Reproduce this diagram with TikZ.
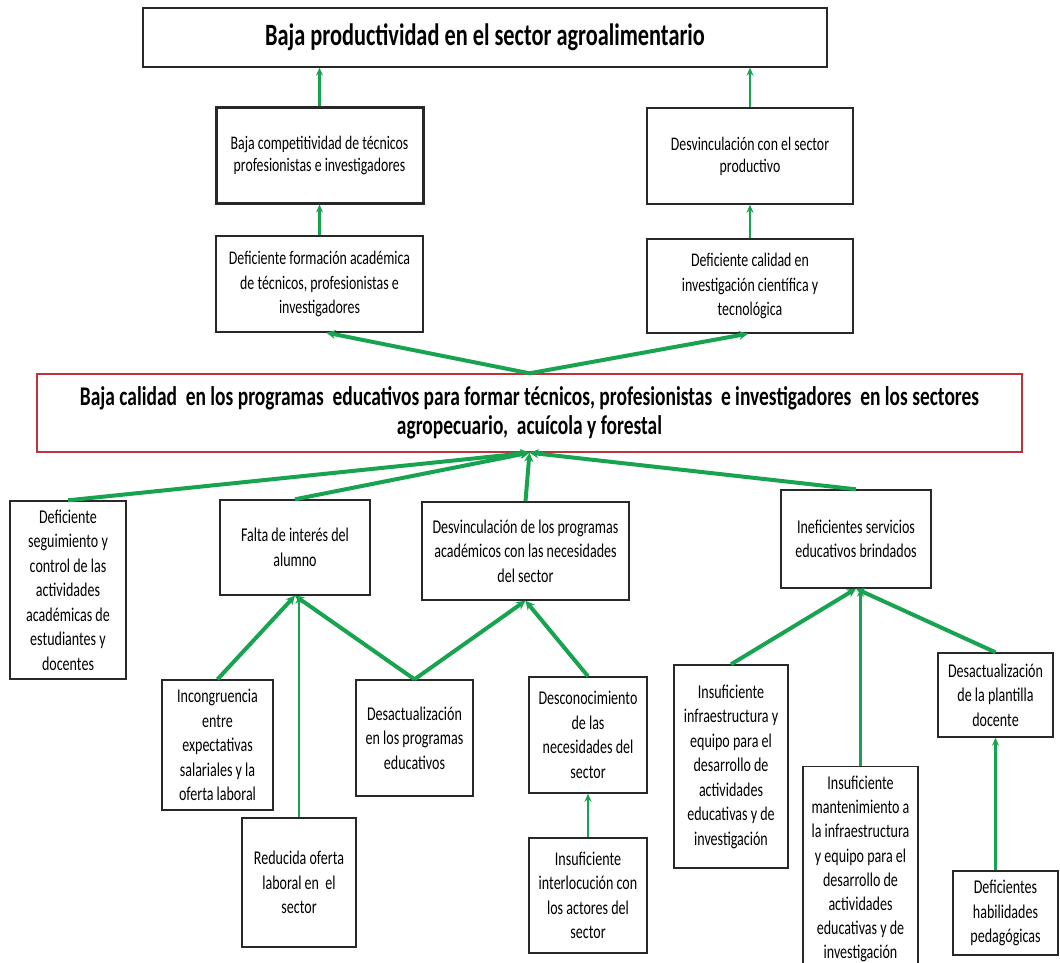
\documentclass[tikz,border=0pt]{standalone}
\usepackage{fontspec}
\setmainfont{Carlito}[FakeStretch=0.72]
\usetikzlibrary{arrows.meta,calc}
\definecolor{arrgreen}{RGB}{24,163,80}
\definecolor{boxline}{RGB}{40,40,40}
\definecolor{redline}{RGB}{190,50,60}
\tikzset{
  box/.style={draw=boxline, line width=1.4pt, fill=white, inner sep=2pt, align=center,
    font=\fontsize{19.5}{24.5}\selectfont},
  upbox/.style={box, font=\fontsize{19.2}{22}\selectfont},
  midbox/.style={box, font=\fontsize{19.3}{24.5}\selectfont},
  thickarr/.style={draw=arrgreen, line width=4pt, -{Stealth[length=9pt,width=9pt]}},
  thinarr/.style={draw=arrgreen, line width=2.6pt, -{Stealth[length=8pt,width=7pt]}},
}
\begin{document}
\begin{tikzpicture}[x=1pt,y=-1pt]
\useasboundingbox (0,0) rectangle (1060,962);
% top level
\node[box, minimum width=684, minimum height=59, font=\bfseries\fontsize{31}{35}\selectfont] (T) at (485,37.5) {Baja productividad en el sector agroalimentario};
\node[upbox, line width=3pt, minimum width=207, minimum height=96] (A) at (319.5,155) {Baja competitividad de técnicos\\profesionistas e investigadores};
\node[upbox, minimum width=206, minimum height=96] (B) at (750,156) {Desvinculación con el sector\\productivo};
\node[midbox, minimum width=207, minimum height=96] (C) at (319.5,284) {Deficiente formación académica\\de técnicos, profesionistas e\\investigadores};
\node[midbox, minimum width=206, minimum height=94] (D) at (750,286) {Deficiente calidad en\\investigación científica y\\tecnológica};
% central problem
\node[box, draw=redline, minimum width=985, minimum height=78, font=\bfseries\fontsize{27}{29.5}\selectfont] (R) at (529.5,413) {Baja calidad~ en los programas~ educativos para formar técnicos, profesionistas~ e investigadores~ en los sectores\\agropecuario,~ acuícola y forestal};
% causes
\node[box, minimum width=116, minimum height=178] (E) at (68,590) {Deficiente\\seguimiento y\\control de las\\actividades\\académicas de\\estudiantes y\\docentes};
\node[box, minimum width=150, minimum height=95] (F) at (295,547.5) {Falta de interés del\\alumno};
\node[box, minimum width=207, minimum height=98] (G) at (525.5,551) {Desvinculación de los programas\\académicos con las necesidades\\del sector};
\node[box, minimum width=150, minimum height=98] (H) at (856,539) {Ineficientes servicios\\educativos brindados};
\node[box, minimum width=111, minimum height=130] (I) at (217.5,745) {Incongruencia\\entre\\expectativas\\salariales y la\\oferta laboral};
\node[box, minimum width=114, minimum height=129] (J) at (299,882.5) {Reducida oferta\\laboral en~ el\\sector};
\node[box, minimum width=117, minimum height=116] (K) at (414.5,738) {Desactualización\\en los programas\\educativos};
\node[box, minimum width=118, minimum height=116] (L) at (588,735) {Desconocimiento\\de las\\necesidades del\\sector};
\node[box, minimum width=118, minimum height=115] (M) at (588,895.5) {Insuficiente\\interlocución con\\los actores del\\sector};
\node[box, minimum width=114, minimum height=203] (N) at (731,766.5) {Insuficiente\\infraestructura y\\equipo para el\\desarrollo de\\actividades\\educativas y de\\investigación};
\node[box, minimum width=115, minimum height=205, anchor=north, font=\fontsize{19.5}{24.2}\selectfont] (O) at (860.5,766) {Insuficiente\\mantenimiento a\\la infraestructura\\y equipo para el\\desarrollo de\\actividades\\educativas y de\\investigación};
\node[box, minimum width=115, minimum height=84] (P) at (995.5,695) {Desactualización\\de la plantilla\\docente};
\node[box, minimum width=105, minimum height=84] (Q) at (1005.5,913) {Deficientes\\habilidades\\pedagógicas};
% arrows top part
\draw[thinarr] (A.north) -- (A.north |- T.south);
\draw[thinarr] (B.north) -- (B.north |- T.south);
\draw[thinarr] (C.north) -- (A.south);
\draw[thinarr] (D.north) -- (B.south);
\draw[thickarr] (R.north) -- ([xshift=7pt]C.south);
\draw[thickarr] (R.north) -- ([xshift=-2pt]D.south);
% arrows into central problem
\draw[thickarr] (E.north) -- (R.south);
\draw[thickarr] (F.north) -- (R.south);
\draw[thickarr] (G.north) -- (R.south);
\draw[thickarr] (H.north) -- (R.south);
% arrows into F and G
\draw[thickarr] (I.north) -- (F.south);
\draw[thinarr] (J.north) -- (J.north |- F.south);
\draw[thickarr] (K.north) -- (F.south);
\draw[thickarr] (K.north) -- (G.south);
\draw[thickarr] (L.north) -- (G.south);
\draw[thinarr] (M.north) -- (L.south);
% arrows into H and P
\draw[thickarr] (N.north) -- (H.south);
\draw[thinarr] (O.north) -- (O.north |- H.south);
\draw[thickarr] (P.north) -- (H.south);
\draw[thinarr] (P.south |- Q.north) -- (P.south);
\end{tikzpicture}
\end{document}
